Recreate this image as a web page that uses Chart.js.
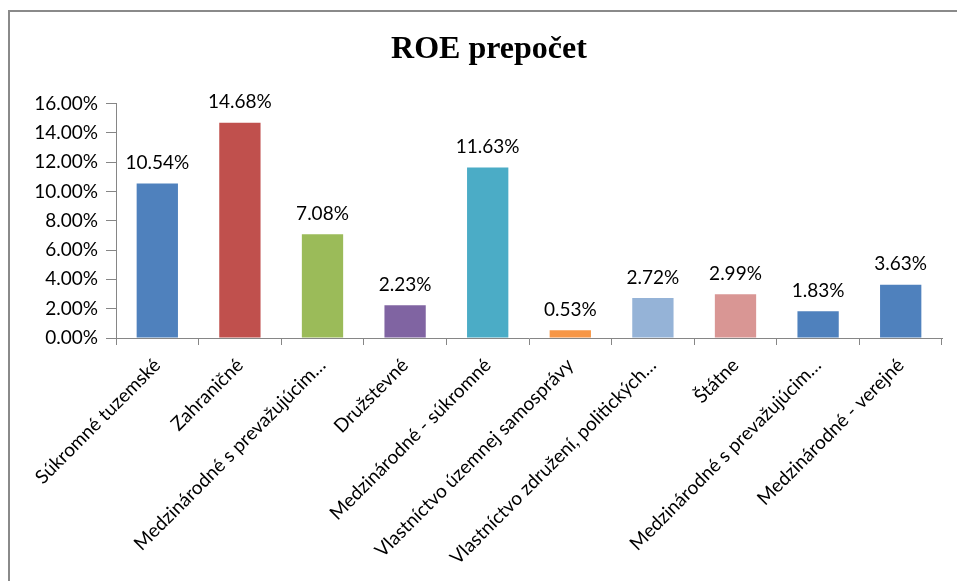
<!DOCTYPE html>
<html>
<head>
<meta charset="utf-8">
<script src="https://cdn.jsdelivr.net/npm/chart.js@4"></script>
<style>
  body { margin: 0; background: #fff; }
  #frame {
    position: absolute; left: 8px; top: 10px;
    border-left: 2px solid #8a8a8a; border-top: 2px solid #8a8a8a;
  }
  canvas { display: block; }
</style>
</head>
<body>
<div id="frame"><canvas id="myChart" width="947" height="569"></canvas></div>
<script>
let labels = ['Súkromné tuzemské', 'Zahraničné', 'Medzinárodné s prevažujúcim…', 'Družstevné',
  'Medzinárodné - súkromné', 'Vlastníctvo územnej samosprávy', 'Vlastníctvo združení, politických…',
  'Štátne', 'Medzinárodné s prevažujúcim…', 'Medzinárodné - verejné'];
let roe = [10.54, 14.68, 7.08, 2.23, 11.63, 0.53, 2.72, 2.99, 1.83, 3.63];
let colorHex = ['#4f81bd', '#c0504d', '#9bbb59', '#8064a2', '#4bacc6', '#f79646', '#95b3d7', '#d99694', '#4f81bd', '#4f81bd'];

let font = 'Lato';

// hodnoty nad stlpcami
let valueLabels = {
  id: 'valueLabels',
  afterDatasetsDraw(chart) {
    let ctx = chart.ctx;
    ctx.save();
    ctx.font = '19px ' + font;
    ctx.fillStyle = '#000';
    ctx.textAlign = 'center';
    ctx.textBaseline = 'bottom';
    chart.getDatasetMeta(0).data.forEach((bar, i) => {
      ctx.fillText(roe[i].toFixed(2) + '%', bar.x, bar.y - 11);
    });
    ctx.restore();
  }
};

let ctx = document.getElementById('myChart').getContext('2d');
let myChart = new Chart(ctx, {
  type: 'bar',
  data: {
    labels: labels,
    datasets: [{
      data: roe,
      backgroundColor: colorHex,
      barPercentage: 0.5,
      categoryPercentage: 1
    }]
  },
  plugins: [valueLabels],
  options: {
    responsive: false,
    animation: false,
    layout: { padding: { left: 26, right: 15 } },
    plugins: {
      legend: { display: false },
      tooltip: { enabled: false },
      title: {
        display: true,
        text: 'ROE prepočet',
        color: '#000',
        font: { family: 'Liberation Serif', size: 32, weight: 'bold' },
        padding: { top: 19, bottom: 34 }
      }
    },
    scales: {
      x: {
        afterFit: (s) => { s.height = 243; },
        grid: { drawOnChartArea: false, tickLength: 7, color: '#868686' },
        border: { color: '#868686' },
        ticks: {
          color: '#000',
          font: { family: font, size: 19 },
          minRotation: 45,
          maxRotation: 45,
          autoSkip: false,
          padding: 9
        }
      },
      y: {
        min: 0,
        max: 16,
        afterFit: (s) => { s.width = 80; },
        grid: { drawOnChartArea: false, tickLength: 10, color: '#868686' },
        border: { color: '#868686' },
        ticks: {
          stepSize: 2,
          color: '#000',
          font: { family: font, size: 19 },
          padding: 8,
          callback: (v) => v.toFixed(2) + '%'
        }
      }
    }
  }
});
</script>
</body>
</html>
